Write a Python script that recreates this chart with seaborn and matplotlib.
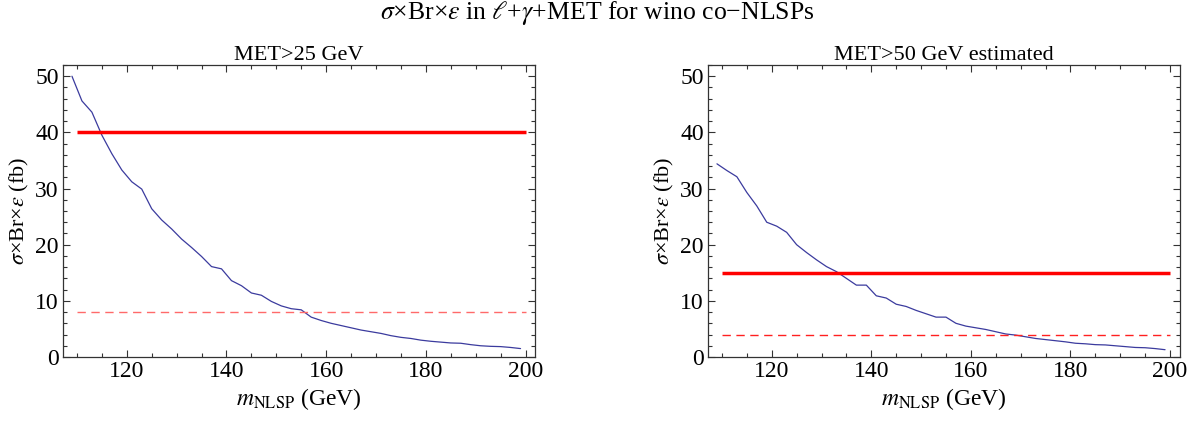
import numpy as np
import pandas as pd
import matplotlib
matplotlib.use("Agg")
import matplotlib.pyplot as plt
import seaborn as sns
from matplotlib.ticker import MultipleLocator

# ---- data ----
mass = [109, 111, 113, 115, 117, 119, 121, 123, 125, 127, 129, 131, 133, 135, 137, 139,
        141, 143, 145, 147, 149, 151, 153, 155, 157, 159, 161, 163, 165, 167, 169, 171,
        173, 175, 177, 179, 181, 183, 185, 187, 189, 191, 193, 195, 197, 199]
xsec_met25 = [50.0, 45.6, 43.6, 39.5, 36.2, 33.3, 31.2, 29.9, 26.4, 24.4, 22.8, 21.0,
              19.5, 17.9, 16.1, 15.7, 13.6, 12.7, 11.4, 11.0, 9.9, 9.1, 8.6, 8.4, 7.1,
              6.5, 6.0, 5.6, 5.2, 4.8, 4.5, 4.2, 3.8, 3.5, 3.3, 3.0, 2.8, 2.65, 2.5,
              2.45, 2.2, 2.0, 1.9, 1.85, 1.7, 1.5]
xsec_met50 = [34.4, 33.2, 32.1, 29.3, 26.9, 24.0, 23.3, 22.2, 20.0, 18.6, 17.3, 16.1,
              15.2, 14.0, 12.8, 12.8, 10.9, 10.5, 9.4, 9.0, 8.3, 7.7, 7.1, 7.1, 6.0,
              5.5, 5.2, 4.9, 4.5, 4.1, 3.9, 3.6, 3.3, 3.1, 2.9, 2.7, 2.45, 2.35, 2.2,
              2.15, 2.0, 1.85, 1.7, 1.65, 1.5, 1.3]
limit_solid = [40, 15]
limit_dashed = [8, 4]
panel_titles = ["MET>25 GeV", "MET>50 GeV estimated"]
limit_range = [110, 200]

sns.set_style("ticks")
plt.rcParams["font.family"] = ["Liberation Serif", "DejaVu Serif"]
plt.rcParams["mathtext.fontset"] = "stix"
plt.rcParams["xtick.direction"] = "in"
plt.rcParams["ytick.direction"] = "in"
plt.rcParams["text.color"] = "black"
plt.rcParams["axes.labelcolor"] = "black"
plt.rcParams["xtick.labelcolor"] = "black"
plt.rcParams["ytick.labelcolor"] = "black"

fig = plt.figure(figsize=(11.95, 4.23), dpi=100)
ax1 = fig.add_axes([63 / 1195, 1 - 357 / 423, 472 / 1195, 292 / 423])
ax2 = fig.add_axes([708 / 1195, 1 - 357 / 423, 471.5 / 1195, 292 / 423])

series = [xsec_met25, xsec_met50]
dash_colors = ["#ff6a6a", "#ff2020"]
for i, ax in enumerate([ax1, ax2]):
    df = pd.DataFrame({"m": mass, "x": series[i]})
    sns.lineplot(data=df, x="m", y="x", ax=ax, color="#3b3b9e", lw=0.9)
    ax.hlines(limit_solid[i], limit_range[0], limit_range[1], color="#ff0000", lw=2.5)
    ax.hlines(limit_dashed[i], limit_range[0], limit_range[1], color=dash_colors[i],
              lw=1.0, linestyles=(0, (6, 4)))
    ax.set_xlim(107.2, 201.9)
    ax.set_ylim(0, 52)
    ax.xaxis.set_major_locator(MultipleLocator(20))
    ax.xaxis.set_minor_locator(MultipleLocator(5))
    ax.yaxis.set_major_locator(MultipleLocator(10))
    ax.yaxis.set_minor_locator(MultipleLocator(2))
    ax.tick_params(which="both", top=True, right=True, direction="in", color="#333333",
                   labelsize=17, width=0.8, labelcolor="black")
    ax.tick_params(which="major", length=5, pad=3)
    ax.tick_params(which="minor", length=3)
    for s in ax.spines.values():
        s.set_visible(True)
        s.set_color("#333333")
        s.set_linewidth(0.9)
    ax.set_title(panel_titles[i], fontsize=16, pad=2, color="black")
    ax.set_xlabel(r"$m_{\mathrm{NLSP}}$ (GeV)", fontsize=17, labelpad=3)
    ax.set_ylabel(r"$\sigma$×Br×$\varepsilon$ (fb)", fontsize=16, labelpad=3)

fig.text(0.5, 1 - 13 / 423,
         r"$\sigma$×Br×$\varepsilon$ in $\ell$+$\gamma$+MET for wino co−NLSPs",
         ha="center", va="center", fontsize=18.5, color="black")

fig.savefig("out.png", dpi=100)
